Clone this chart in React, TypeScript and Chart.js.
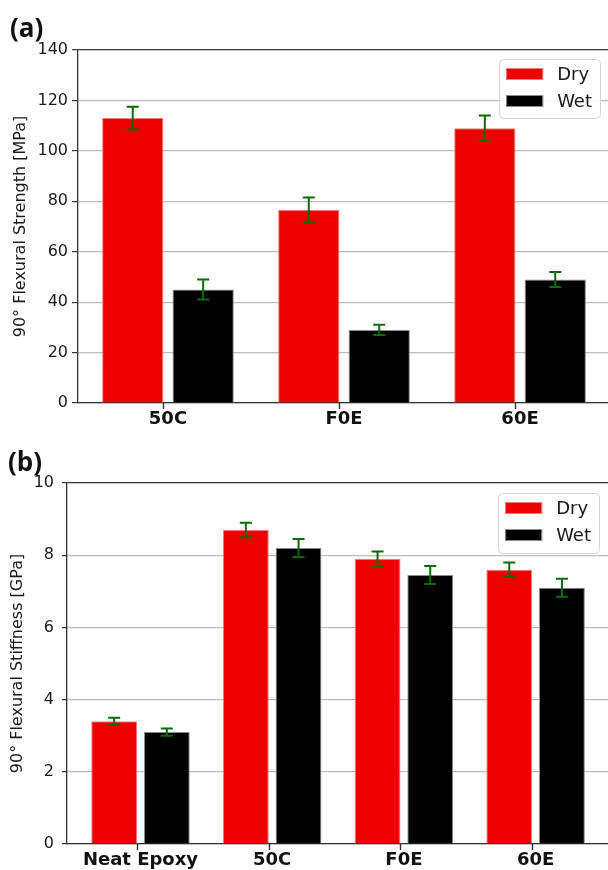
import React, { useEffect, useRef } from "react";
import { Chart, registerables } from "chart.js";

Chart.register(...registerables);
Chart.defaults.font.family = '"DejaVu Sans", sans-serif';

// ---------- data ----------
const seriesLabels = ["Dry", "Wet"];
const seriesColors = ["#ec0000", "#000000"];
const seriesBorders = ["#f27a7a", "#8c8c8c"];

const strengthCategories = ["50C", "F0E", "60E"];
const strengthDry = [113, 76.5, 109];
const strengthDryErr = [4.5, 5, 5];
const strengthWet = [45, 29, 49];
const strengthWetErr = [4, 2, 3];
const strengthTickStep = 20;
const strengthMax = 140;

const stiffnessCategories = ["Neat Epoxy", "50C", "F0E", "60E"];
const stiffnessDry = [3.4, 8.7, 7.9, 7.6];
const stiffnessDryErr = [0.1, 0.2, 0.2, 0.2];
const stiffnessWet = [3.1, 8.2, 7.45, 7.1];
const stiffnessWetErr = [0.1, 0.25, 0.25, 0.25];
const stiffnessTickStep = 2;
const stiffnessMax = 10;

// ---------- plugins ----------
const errorBarPlugin = {
  id: "errorBars",
  afterDatasetsDraw(chart: any) {
    const { ctx } = chart;
    const y = chart.scales.y;
    chart.data.datasets.forEach((ds: any, di: number) => {
      const meta = chart.getDatasetMeta(di);
      meta.data.forEach((bar: any, i: number) => {
        const v = ds.data[i].y;
        const e = ds.errors[i];
        const top = y.getPixelForValue(v + e);
        const bot = y.getPixelForValue(v - e);
        const cap = 6;
        ctx.save();
        ctx.strokeStyle = "#0b6b0b";
        ctx.lineWidth = 2;
        ctx.beginPath();
        ctx.moveTo(bar.x, top);
        ctx.lineTo(bar.x, bot);
        ctx.moveTo(bar.x - cap, top);
        ctx.lineTo(bar.x + cap, top);
        ctx.moveTo(bar.x - cap, bot);
        ctx.lineTo(bar.x + cap, bot);
        ctx.stroke();
        ctx.restore();
      });
    });
  },
};

// x tick marks where the first and second series' bars meet (as in the source figure)
const xTickPlugin = {
  id: "xTicks",
  afterDraw(chart: any) {
    const { ctx, chartArea } = chart;
    const m0 = chart.getDatasetMeta(0);
    const m1 = chart.getDatasetMeta(1);
    ctx.save();
    ctx.strokeStyle = "#333333";
    ctx.lineWidth = 1.4;
    ctx.beginPath();
    m0.data.forEach((bar: any, i: number) => {
      const a = bar.getProps(["x", "width"], true);
      const b = m1.data[i].getProps(["x", "width"], true);
      let x = a.x + (isFinite(a.width) ? a.width / 2 : (b.x - a.x) / 2 - 3);
      if (!isFinite(x)) x = (a.x + b.x) / 2;
      x = Math.round(x) + 0.5;
      ctx.moveTo(x, chartArea.bottom);
      ctx.lineTo(x, chartArea.bottom + 6);
    });
    ctx.stroke();
    ctx.restore();
  },
};

const boxLegendPlugin = {
  id: "boxLegend",
  afterDraw(chart: any, _args: any, opts: any) {
    const { ctx, chartArea } = chart;
    ctx.save();
    ctx.font = '18px "DejaVu Sans"';
    const ds = chart.data.datasets;
    const textW = Math.max(...ds.map((d: any) => ctx.measureText(d.label).width));
    const patchW = 37, patchH = 12, padL = 7, gap = 14, padR = 8;
    const w = padL + patchW + gap + textW + padR;
    const h = opts.height;
    const left = opts.right - w;
    const top = chartArea.top + opts.offsetTop;
    ctx.beginPath();
    (ctx as any).roundRect(left + 0.5, top + 0.5, w, h, 4);
    ctx.fillStyle = "rgba(255,255,255,0.85)";
    ctx.fill();
    ctx.strokeStyle = "#d6d6d6";
    ctx.lineWidth = 1;
    ctx.stroke();
    ds.forEach((d: any, i: number) => {
      const cy = top + 15 + i * 27;
      ctx.fillStyle = d.backgroundColor;
      ctx.fillRect(left + padL, cy - patchH / 2, patchW, patchH);
      ctx.strokeStyle = d.borderColor;
      ctx.lineWidth = 1;
      ctx.strokeRect(left + padL + 0.5, cy - patchH / 2 + 0.5, patchW - 1, patchH - 1);
      ctx.fillStyle = "#1a1a1a";
      ctx.textBaseline = "middle";
      ctx.textAlign = "left";
      ctx.fillText(d.label, left + padL + patchW + gap, cy + 1);
    });
    ctx.restore();
  },
};

type PanelProps = {
  width: number;
  height: number;
  categories: string[];
  dry: number[];
  dryErr: number[];
  wet: number[];
  wetErr: number[];
  yMax: number;
  yStep: number;
  yTitle: string;
  xMin: number;
  xMax: number;
  yAxisWidth: number;
  xAxisHeight: number;
  padTop: number;
  yTickLen: number;
  yTickPad: number;
  titlePad: number;
  legendRight: number;
  legendTop: number;
  legendHeight: number;
};

function BarPanel(p: PanelProps) {
  const ref = useRef<HTMLCanvasElement | null>(null);
  useEffect(() => {
    if (!ref.current) return;
    const values = [p.dry, p.wet];
    const errs = [p.dryErr, p.wetErr];
    const chart = new Chart(ref.current, {
      type: "bar",
      data: {
        datasets: seriesLabels.map((label, si) => ({
          label,
          data: values[si].map((v, i) => ({ x: i, y: v })),
          errors: errs[si],
          backgroundColor: seriesColors[si],
          borderColor: seriesBorders[si],
          borderWidth: 1,
          categoryPercentage: 0.8,
          barPercentage: 0.87,
        })) as any,
      },
      options: {
        responsive: false,
        animation: false,
        layout: { padding: { top: p.padTop, right: 10, left: 0, bottom: 0 } },
        plugins: {
          legend: { display: false },
          tooltip: { enabled: false },
          boxLegend: { right: p.legendRight, offsetTop: p.legendTop, height: p.legendHeight },
        } as any,
        scales: {
          x: {
            type: "linear",
            min: p.xMin,
            max: p.xMax,
            offset: false,
            afterBuildTicks: (s: any) => {
              s.ticks = p.categories.map((_, i) => ({ value: i }));
            },
            afterFit: (s: any) => {
              s.height = p.xAxisHeight;
            },
            grid: {
              display: false,
              drawTicks: true,
              tickLength: 5,
            },
            border: { display: true, color: "#333", width: 1.3 },
            ticks: {
              padding: 1,
              maxRotation: 0,
              autoSkip: false,
              color: "#111",
              font: { size: 18, weight: "bold" },
              callback: (v: any) => p.categories[v] ?? "",
            },
          },
          y: {
            min: 0,
            max: p.yMax,
            afterFit: (s: any) => {
              s.width = p.yAxisWidth;
            },
            ticks: {
              stepSize: p.yStep,
              padding: p.yTickPad,
              color: "#1a1a1a",
              font: { size: 16 },
            },
            grid: {
              color: (c: any) => (c.tick && c.tick.value === p.yMax ? "#333" : "#bdbdbd"),
              lineWidth: (c: any) => (c.tick && c.tick.value === p.yMax ? 1.3 : 1.2),
              tickLength: p.yTickLen,
              tickColor: "#333",
              tickWidth: 1.2,
            },
            border: { display: true, color: "#333", width: 1.3 },
            title: {
              display: true,
              text: p.yTitle,
              color: "#1a1a1a",
              font: { size: 16 },
              padding: { top: p.titlePad, bottom: 0 },
            },
          },
        },
      },
      plugins: [errorBarPlugin, xTickPlugin, boxLegendPlugin],
    });
    return () => chart.destroy();
  }, []);
  return (
    <canvas
      ref={ref}
      width={p.width}
      height={p.height}
      style={{ width: p.width, height: p.height, display: "block" }}
    />
  );
}

const panelLabelStyle: React.CSSProperties = {
  position: "absolute",
  fontFamily: '"Open Sans", sans-serif',
  fontWeight: 700,
  fontSize: 26,
  lineHeight: "26px",
  color: "#111",
  margin: 0,
};

export default function App() {
  return (
    <div
      style={{
        position: "absolute",
        left: 0,
        top: 0,
        width: 608,
        height: 870,
        overflow: "hidden",
        background: "#fff",
      }}
    >
      <div style={{ position: "absolute", left: 0, top: 0 }}>
        <BarPanel
          width={620}
          height={440}
          categories={strengthCategories}
          dry={strengthDry}
          dryErr={strengthDryErr}
          wet={strengthWet}
          wetErr={strengthWetErr}
          yMax={strengthMax}
          yStep={strengthTickStep}
          yTitle="90° Flexural Strength [MPa]"
          xMin={-0.511}
          xMax={2.511}
          yAxisWidth={78}
          xAxisHeight={37}
          padTop={50}
          yTickLen={6}
          yTickPad={4}
          titlePad={11}
          legendRight={600}
          legendTop={9}
          legendHeight={59}
        />
      </div>
      <div style={{ position: "absolute", left: 0, top: 440 }}>
        <BarPanel
          width={620}
          height={430}
          categories={stiffnessCategories}
          dry={stiffnessDry}
          dryErr={stiffnessDryErr}
          wet={stiffnessWet}
          wetErr={stiffnessWetErr}
          yMax={stiffnessMax}
          yStep={stiffnessTickStep}
          yTitle="90° Flexural Stiffness [GPa]"
          xMin={-0.558}
          xMax={3.565}
          yAxisWidth={67}
          xAxisHeight={26}
          padTop={43}
          yTickLen={5}
          yTickPad={8}
          titlePad={8}
          legendRight={599}
          legendTop={10}
          legendHeight={60}
        />
      </div>
      <div style={{ ...panelLabelStyle, left: 10, top: 14 }}>(a)</div>
      <div style={{ ...panelLabelStyle, left: 8, top: 448 }}>(b)</div>
    </div>
  );
}
